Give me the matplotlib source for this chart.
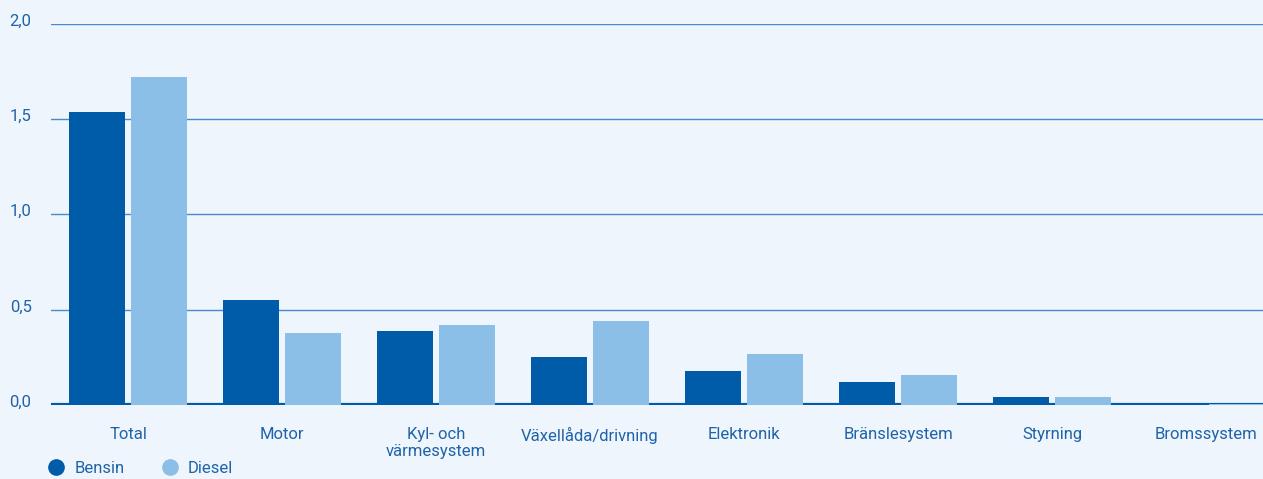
import matplotlib.pyplot as plt
import matplotlib.transforms as mtransforms
import numpy as np
from matplotlib.lines import Line2D

plt.rcParams['font.family'] = ['Roboto', 'DejaVu Sans']

# Data
categories = ['Total', 'Motor', 'Kyl- och\nvärmesystem', 'Växellåda/drivning',
              'Elektronik', 'Bränslesystem', 'Styrning', 'Bromssystem']
bensin = [1.54, 0.55, 0.39, 0.25, 0.18, 0.12, 0.04, 0.01]
diesel = [1.72, 0.38, 0.42, 0.44, 0.27, 0.16, 0.04, 0.005]
yticks = [0.0, 0.5, 1.0, 1.5, 2.0]
ytick_labels = ['0,0', '0,5', '1,0', '1,5', '2,0']

bg = '#eef5fd'
c_bensin = '#005ca9'
c_diesel = '#8bbfe7'
c_text = '#1f63a8'

fig = plt.figure(figsize=(12.63, 4.79), dpi=100, facecolor=bg)
ax = fig.add_axes([0.0404, 0.1545, 0.9596, 0.7955])
ax.set_facecolor(bg)

x = np.arange(len(categories))
w = 0.364
ax.bar(x - 0.2, bensin, w, color=c_bensin, zorder=3)
ax.bar(x + 0.2, diesel, w, color=c_diesel, zorder=3)

ax.set_xlim(-0.5, 7.37)
ax.set_ylim(0, 2.0)
ax.set_yticks(yticks)
ax.set_yticklabels(ytick_labels)
for v in yticks[1:]:
    ax.axhline(v, color='#4a8acb', lw=1.0, zorder=1)
ax.axhline(0, color=c_bensin, lw=3, zorder=2)

for s in ax.spines.values():
    s.set_visible(False)
ax.set_xticks(x)
ax.set_xticklabels(categories, fontsize=12, color=c_text, linespacing=1.15, va='top')
ax.tick_params(axis='x', length=0, pad=16)
ax.tick_params(axis='y', length=0, pad=14, labelsize=12, labelcolor=c_text)
# y labels sit slightly above their gridlines
shift = mtransforms.ScaledTranslation(0, 3 / 72, fig.dpi_scale_trans)
for lab in ax.get_yticklabels():
    lab.set_transform(lab.get_transform() + shift)

handles = [Line2D([], [], marker='o', ls='', color=c_bensin, markersize=11),
           Line2D([], [], marker='o', ls='', color=c_diesel, markersize=11)]
fig.legend(handles, ['Bensin', 'Diesel'], loc='lower left', bbox_to_anchor=(0.026, -0.025),
           ncol=2, frameon=False, fontsize=12, labelcolor=c_text,
           handletextpad=0.6, columnspacing=2.2, handlelength=1.0)

fig.savefig('out.png', dpi=100, facecolor=bg)
